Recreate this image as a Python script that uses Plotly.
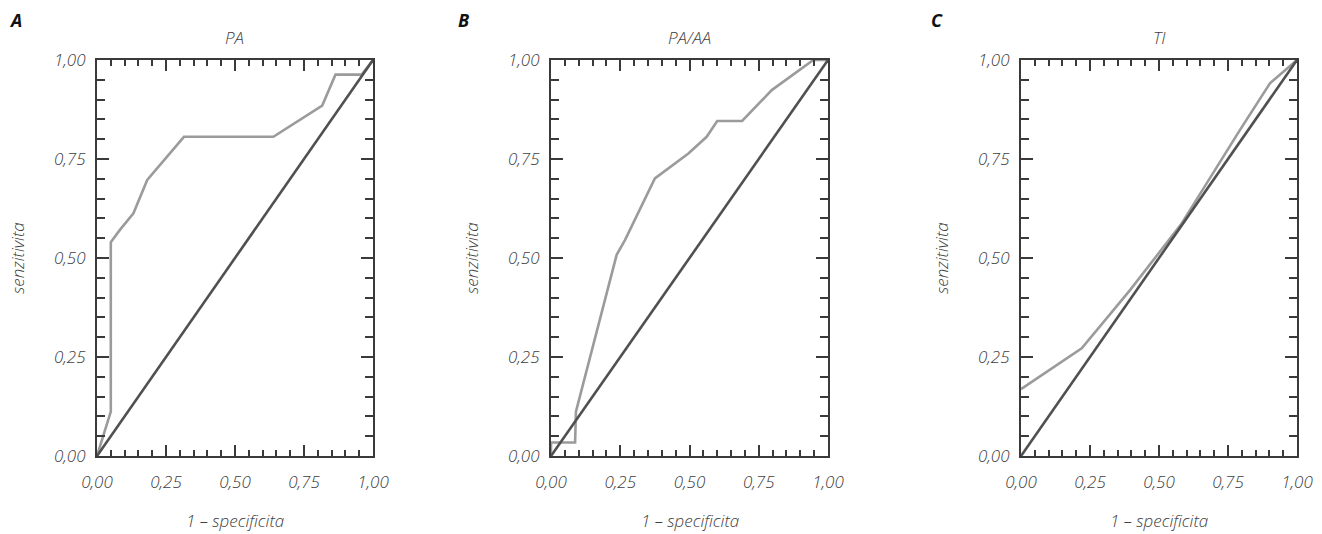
import plotly.graph_objects as go

# ROC curves: x = 1 - specificity, y = sensitivity
pa_x = [0.0, 0.05, 0.05, 0.083, 0.132, 0.182, 0.315, 0.639, 0.816, 0.864, 0.959, 1.0]
pa_y = [0.0, 0.112, 0.54, 0.571, 0.613, 0.697, 0.806, 0.806, 0.885, 0.963, 0.963, 1.0]

paaa_x = [0.0, 0.0, 0.087, 0.09, 0.237, 0.267, 0.375, 0.496, 0.562, 0.600, 0.690, 0.797, 0.947, 1.0]
paaa_y = [0.0, 0.034, 0.034, 0.112, 0.508, 0.545, 0.701, 0.764, 0.806, 0.846, 0.846, 0.924, 1.0, 1.0]

ti_x = [0.0, 0.22, 0.395, 0.58, 0.793, 0.902, 1.0]
ti_y = [0.169, 0.272, 0.419, 0.585, 0.823, 0.941, 1.0]

panel_titles = ["PA", "PA/AA", "TI"]
panel_letters = ["A", "B", "C"]
tick_vals = [0, 0.25, 0.5, 0.75, 1.0]
tick_text = ["0,00", "0,25", "0,50", "0,75", "1,00"]

W, H = 1322, 534
# plot-area pixel boxes (left, right) for each panel; shared top/bottom
boxes = [(97, 373), (551, 828), (1021, 1297)]
top_px, bot_px = 60, 456

FONT = "Open Sans"
TXT = "#404040"
AXIS = "#3a3a3a"
CURVE = "#9b9b9b"
DIAG = "#505050"
TFONT = dict(family=FONT, size=17, color=TXT, style="italic", weight=300)

fig = go.Figure()
series = [(pa_x, pa_y), (paaa_x, paaa_y), (ti_x, ti_y)]

for i, ((xs, ys), (l, r)) in enumerate(zip(series, boxes)):
    xa = "x" if i == 0 else f"x{i+1}"
    ya = "y" if i == 0 else f"y{i+1}"
    fig.add_trace(go.Scatter(x=xs, y=ys, mode="lines", xaxis=xa, yaxis=ya,
                             line=dict(color=CURVE, width=2.6), hoverinfo="skip",
                             showlegend=False, cliponaxis=False))
    fig.add_trace(go.Scatter(x=[0, 1], y=[0, 1], mode="lines", xaxis=xa, yaxis=ya,
                             line=dict(color=DIAG, width=2.6), hoverinfo="skip",
                             showlegend=False, cliponaxis=False))

    common = dict(range=[0, 1], showgrid=False, zeroline=False, showline=True,
                  linecolor=AXIS, linewidth=2, mirror="ticks", ticks="inside",
                  tickcolor=AXIS, tickwidth=2, tickvals=tick_vals, ticktext=tick_text,
                  tickfont=TFONT, fixedrange=True, automargin=False,
                  minor=dict(ticks="inside", dtick=0.05, tick0=0, ticklen=6,
                             tickwidth=2, tickcolor=AXIS, showgrid=False))
    xkey = "xaxis" if i == 0 else f"xaxis{i+1}"
    ykey = "yaxis" if i == 0 else f"yaxis{i+1}"
    xd = dict(common, domain=[l / W, r / W], anchor=ya, ticklen=11, ticklabelstandoff=10)
    yd = dict(common, domain=[1 - bot_px / H, 1 - top_px / H], anchor=xa, ticklen=12,
              ticklabelstandoff=6)
    yd["minor"] = dict(common["minor"], ticklen=8)
    fig.layout[xkey] = xd
    fig.layout[ykey] = yd

    cx = (l + r) / 2 / W
    fig.add_annotation(x=cx, y=1 - 37 / H, xref="paper", yref="paper", text=panel_titles[i],
                       showarrow=False, xanchor="center", yanchor="middle", font=TFONT)
    fig.add_annotation(x=cx, y=1 / H, xref="paper", yref="paper", text="1 – specificita",
                       showarrow=False, xanchor="center", yanchor="bottom", font=TFONT,
                       borderpad=0)
    fig.add_annotation(x=(l - 80) / W, y=1 - 258 / H, xref="paper", yref="paper",
                       text="senzitivita", textangle=-90, showarrow=False,
                       xanchor="center", yanchor="middle", font=TFONT)

letter_x = [15, 463, 937]
for letter, lx in zip(panel_letters, letter_x):
    fig.add_annotation(x=lx / W, y=1 - 20 / H, xref="paper", yref="paper", text=f"<b>{letter}</b>",
                       showarrow=False, xanchor="center", yanchor="middle",
                       font=dict(family=FONT, size=18, color="#111111", style="italic"))

fig.update_layout(width=W, height=H,
                  margin=dict(l=0, r=0, t=0, b=0, pad=0, autoexpand=False),
                  paper_bgcolor="white", plot_bgcolor="white", separators=",.",
                  showlegend=False)

fig.write_html("out.html", config={"displayModeBar": False})
